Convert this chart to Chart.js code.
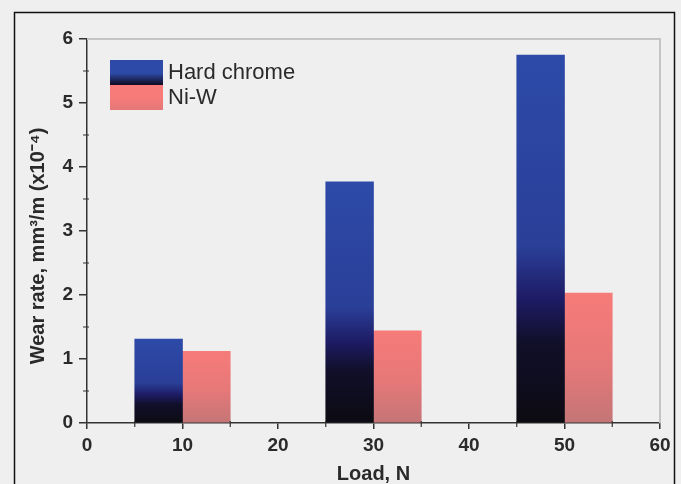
<!DOCTYPE html>
<html>
<head>
<meta charset="utf-8">
<script src="https://cdn.jsdelivr.net/npm/chart.js@4"></script>
<style>
  html, body { margin: 0; padding: 0; background: #efefef; }
  #wrap { width: 681px; height: 484px; }
</style>
</head>
<body>
<div id="wrap"><canvas id="wear-chart" width="681" height="484"></canvas></div>
<script>
// data
const loads = [10, 30, 50];
const hardChrome = [1.31, 3.77, 5.75];
const niW = [1.12, 1.44, 2.03];
const seriesNames = ['Hard chrome', 'Ni-W'];
const xTicks = [0, 10, 20, 30, 40, 50, 60];
const yTicks = [0, 1, 2, 3, 4, 5, 6];

const chromeStops = [[0, '#0c0b12'], [0.22, '#110f2a'], [0.34, '#1e1c66'], [0.48, '#2a3f98'], [1, '#2d4aa8']];
const niwStops = [[0, '#c47577'], [0.45, '#e67878'], [1, '#f67b79']];

const tickFont = { family: 'Liberation Sans, Arial, sans-serif', size: 19, weight: 'bold' };
const titleFont = { family: 'Liberation Sans, Arial, sans-serif', size: 20, weight: 'bold', lineHeight: 1 };
const ink = '#2a2a2a';

function barGradient(ctx, stops) {
  const chart = ctx.chart;
  if (!chart.chartArea || ctx.type !== 'data') return stops[stops.length - 1][1];
  const y = chart.scales.y;
  const top = y.getPixelForValue(ctx.parsed.y);
  const base = y.getPixelForValue(0);
  const g = chart.ctx.createLinearGradient(0, base, 0, top);
  stops.forEach(([p, c]) => g.addColorStop(p, c));
  return g;
}

// background, outer frame, light top/right box, minor ticks
const framePlugin = {
  id: 'frame',
  beforeDraw(chart) {
    const c = chart.ctx;
    c.save();
    c.fillStyle = '#efefef';
    c.fillRect(0, 0, chart.width, chart.height);
    c.restore();
  },
  beforeDatasetsDraw(chart) {
    const c = chart.ctx;
    const a = chart.chartArea;
    c.save();
    c.strokeStyle = '#c4c4c4';
    c.lineWidth = 2;
    c.beginPath();
    c.moveTo(a.left, a.top);
    c.lineTo(a.right, a.top);
    c.lineTo(a.right, a.bottom);
    c.stroke();
    c.restore();
  },
  afterDraw(chart) {
    const c = chart.ctx;
    const a = chart.chartArea;
    const xs = chart.scales.x, ys = chart.scales.y;
    c.save();
    c.strokeStyle = '#333';
    c.lineWidth = 1.2;
    c.beginPath();
    for (let v = 5; v < 60; v += 10) {
      const px = xs.getPixelForValue(v);
      c.moveTo(px, a.bottom - 2);
      c.lineTo(px, a.bottom + 4);
    }
    for (let v = 0.5; v < 6; v += 1) {
      const py = ys.getPixelForValue(v);
      c.moveTo(a.left - 4, py);
      c.lineTo(a.left + 2, py);
    }
    c.stroke();
    c.strokeStyle = '#111';
    c.lineWidth = 1.5;
    c.strokeRect(14.5, 12.5, 660, 490);
    c.restore();
  }
};

// legend boxes in the top-left corner of the plot
const legendPlugin = {
  id: 'boxLegend',
  afterDraw(chart) {
    const c = chart.ctx;
    const a = chart.chartArea;
    const x = a.left + 23, w = 53, h = 24;
    const allStops = [chromeStops, niwStops];
    c.save();
    c.font = '22px Liberation Sans, Arial, sans-serif';
    c.textBaseline = 'middle';
    chart.data.datasets.forEach((ds, i) => {
      const y = a.top + 21 + i * (h + 1);
      const last = allStops[i][allStops[i].length - 1][1];
      const g = c.createLinearGradient(0, y + h, 0, y);
      g.addColorStop(0, allStops[i][1][1]);
      g.addColorStop(0.45, last);
      g.addColorStop(1, last);
      c.fillStyle = g;
      c.fillRect(x, y, w, h + 1);
      c.fillStyle = ink;
      c.fillText(ds.label, x + w + 5, y + h / 2 + 1);
    });
    c.restore();
  }
};

new Chart(document.getElementById('wear-chart'), {
  type: 'bar',
  data: {
    datasets: [
      {
        label: seriesNames[0],
        data: loads.map((x, i) => ({ x, y: hardChrome[i] })),
        backgroundColor: ctx => barGradient(ctx, chromeStops),
        borderWidth: 0
      },
      {
        label: seriesNames[1],
        data: loads.map((x, i) => ({ x, y: niW[i] })),
        backgroundColor: ctx => barGradient(ctx, niwStops),
        borderWidth: 0
      }
    ]
  },
  options: {
    responsive: false,
    animation: false,
    categoryPercentage: 1,
    barPercentage: 1,
    layout: { padding: { top: 39, right: 21, left: 0, bottom: 0 } },
    plugins: { legend: { display: false }, tooltip: { enabled: false } },
    scales: {
      x: {
        type: 'linear',
        min: 0,
        max: 60,
        offset: false,
        afterBuildTicks: s => { s.ticks = xTicks.map(v => ({ value: v })); },
        afterFit: s => { s.height = 61; },
        ticks: { color: ink, font: tickFont, padding: 5, maxRotation: 0 },
        grid: { offset: false, drawOnChartArea: false, tickLength: 6, color: '#333', lineWidth: 1.5 },
        border: { color: '#333', width: 1.5 },
        title: { display: true, text: 'Load, N', color: ink, font: titleFont, padding: { top: 0, bottom: 0 } }
      },
      y: {
        min: 0,
        max: 6,
        afterBuildTicks: s => { s.ticks = yTicks.map(v => ({ value: v })); },
        afterFit: s => { s.width = 87; },
        ticks: { color: ink, font: tickFont, padding: 6 },
        grid: { drawOnChartArea: false, tickLength: 8, color: '#333', lineWidth: 1.5 },
        border: { color: '#333', width: 1.5 },
        // trailing en spaces push the rotated label down to where it sits in the figure
        title: { display: true, text: 'Wear rate, mm³/m (x10⁻⁴)\u2002\u2002\u2002', color: ink, font: titleFont, padding: { top: 28, bottom: 0 } }
      }
    }
  },
  plugins: [framePlugin, legendPlugin]
});
</script>
</body>
</html>
